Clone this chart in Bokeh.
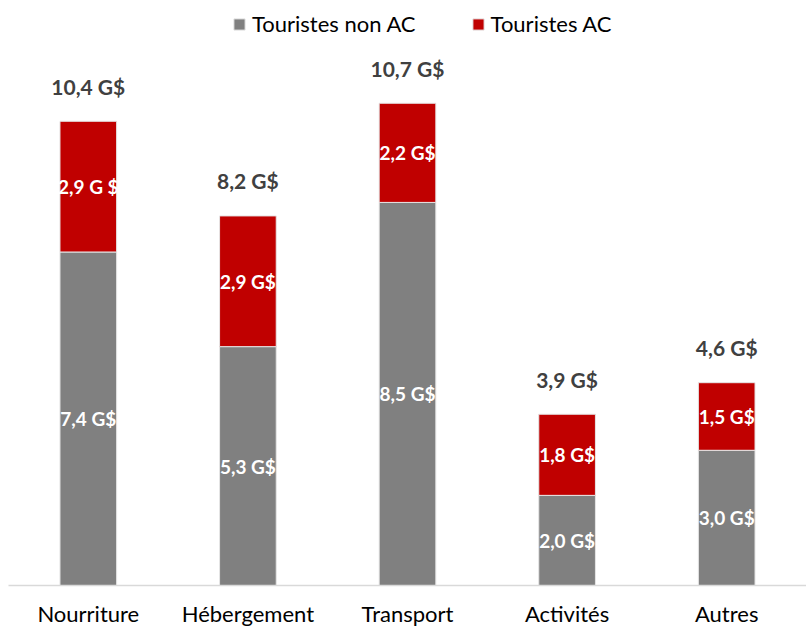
from bokeh.plotting import figure
from bokeh.models import ColumnDataSource, Range1d, LabelSet, Legend, LegendItem
from bokeh.core.properties import value
from bokeh.embed import file_html
from bokeh.resources import INLINE

categories = ["Nourriture", "Hébergement", "Transport", "Activités", "Autres"]
non_ac = [7.4, 5.3, 8.5, 2.0, 3.0]
ac = [2.9, 2.9, 2.2, 1.8, 1.5]
non_ac_labels = ["7,4 G$", "5,3 G$", "8,5 G$", "2,0 G$", "3,0 G$"]
ac_labels = ["2,9 G $", "2,9 G$", "2,2 G$", "1,8 G$", "1,5 G$"]
total_labels = ["10,4 G$", "8,2 G$", "10,7 G$", "3,9 G$", "4,6 G$"]
series_names = ["Touristes non AC", "Touristes AC"]

GREY = "#808080"
RED = "#C00000"
FONT = "Lato"

top = [a + b for a, b in zip(non_ac, ac)]
src = ColumnDataSource(dict(
    cat=categories, non_ac=non_ac, ac=ac, top=top,
    mid_non=[v / 2 for v in non_ac],
    mid_ac=[a + b / 2 for a, b in zip(non_ac, ac)],
    non_lbl=non_ac_labels, ac_lbl=ac_labels, tot_lbl=total_labels,
))

p = figure(x_range=categories, y_range=Range1d(0, 12.98), width=806, height=629,
           output_backend="svg", toolbar_location=None,
           min_border_left=8, min_border_right=0, min_border_top=0, min_border_bottom=0)

r = p.vbar_stack(["non_ac", "ac"], x="cat", width=0.355, source=src,
                 color=[GREY, RED], line_color="#e6e6e6", line_width=1)

for y, lbl in [("mid_non", "non_lbl"), ("mid_ac", "ac_lbl")]:
    p.add_layout(LabelSet(x="cat", y=y, text=lbl, source=src, text_align="center",
                          text_baseline="middle", text_color="white", text_font=value(FONT),
                          text_font_size="19px", text_font_style="bold"))
p.add_layout(LabelSet(x="cat", y="top", text="tot_lbl", source=src, text_align="center",
                      text_baseline="middle", y_offset=35, text_color="#404040",
                      text_font=value(FONT), text_font_size="21px", text_font_style="bold"))

legend = Legend(items=[LegendItem(label=series_names[0], renderers=[r[0]]),
                       LegendItem(label=series_names[1], renderers=[r[1]])],
                orientation="horizontal", location=(224, 548),
                glyph_width=14, glyph_height=14, label_standoff=6, spacing=55,
                padding=0, margin=0, border_line_color=None, background_fill_alpha=0,
                label_text_font=FONT, label_text_font_size="22px", label_text_color="#000000")
p.add_layout(legend, "center")

p.yaxis.visible = False
p.xgrid.grid_line_color = None
p.ygrid.grid_line_color = None
p.outline_line_color = None
p.xaxis.axis_line_color = "#d9d9d9"
p.xaxis.axis_line_width = 1.5
p.xaxis.major_tick_line_color = None
p.xaxis.minor_tick_line_color = None
p.xaxis.major_tick_out = 0
p.xaxis.major_label_standoff = 14
p.xaxis.axis_label_standoff = 0
p.xaxis.major_label_text_font = FONT
p.xaxis.major_label_text_font_size = "22px"
p.xaxis.major_label_text_color = "#000000"
p.x_range.range_padding = 0

open("out.html", "w").write(file_html(p, INLINE))
